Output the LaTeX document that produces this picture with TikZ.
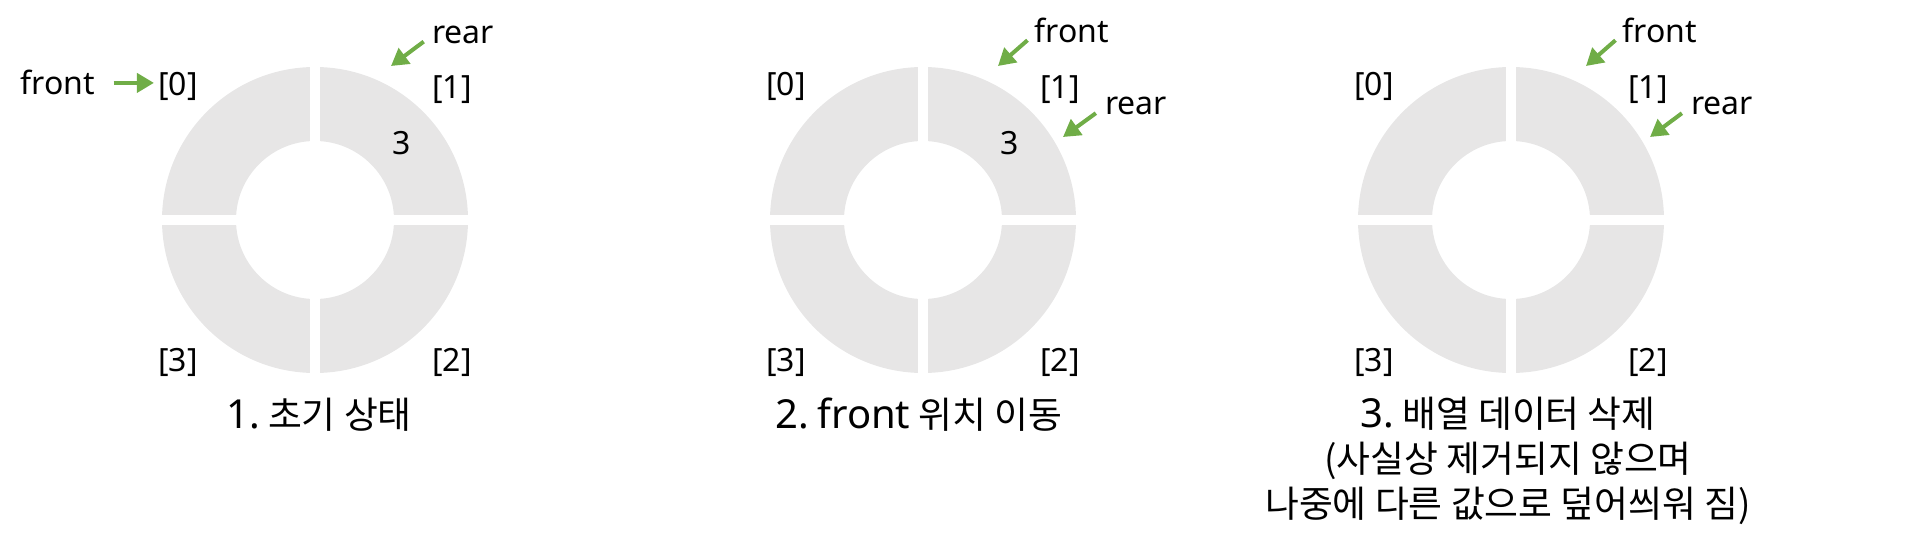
\documentclass[tikz,border=0pt]{standalone}
\usepackage{fontspec}
\setmainfont{Noto Sans}
\newfontfamily\kr[Scale=0.92]{Noto Sans CJK KR}
\usetikzlibrary{arrows.meta}
\definecolor{ringgray}{HTML}{E7E6E6}
\definecolor{ptrgreen}{HTML}{70AD47}

\begin{document}
\begin{tikzpicture}[x=0.5pt,y=0.5pt,
  lbl/.style={anchor=base,inner sep=2pt,font=\fontsize{16pt}{19pt}\selectfont},
  captxt/.style={anchor=base,align=center,font=\fontsize{20pt}{22.5pt}\selectfont},
  ptr/.style={draw=ptrgreen,line width=2pt,-{Triangle[length=8.5pt,width=9.5pt]}}]
  \useasboundingbox (0,0) rectangle (1915,547);

  \fill[ringgray,even odd rule] (315,327) circle (153) (315,327) circle (79);
  \fill[white] (310,170) rectangle (320,484);
  \fill[white] (158,322) rectangle (472,332);

  \fill[ringgray,even odd rule] (923,327) circle (153) (923,327) circle (79);
  \fill[white] (918,170) rectangle (928,484);
  \fill[white] (766,322) rectangle (1080,332);

  \fill[ringgray,even odd rule] (1511,327) circle (153) (1511,327) circle (79);
  \fill[white] (1506,170) rectangle (1516,484);
  \fill[white] (1354,322) rectangle (1668,332);

  \node[lbl] (idxA0) at (178,451) {[0]};
  \node[lbl] (idxA1) at (452,448) {[1]};
  \node[lbl] (idxA2) at (452,176) {[2]};
  \node[lbl] (idxA3) at (178,176) {[3]};
  \node[lbl] (valA) at (402,392) {3};
  \node[lbl] (frontA) at (58,452) {front};
  \node[lbl] (rearA) at (463,503) {rear};
  \coordinate (rearAtip) at (391,481);
  \draw[ptr,shorten <=7pt] (frontA.east) -- (frontA.east -| idxA0.west);
  \draw[ptr,shorten <=2.5pt] (rearA.mid west) -- (rearAtip);
  \node[captxt] (capA) at (319,119) {1.{\kr\ 초기 상태}};

  \node[lbl] (idxB0) at (786,451) {[0]};
  \node[lbl] (idxB1) at (1060,448) {[1]};
  \node[lbl] (idxB2) at (1060,176) {[2]};
  \node[lbl] (idxB3) at (786,176) {[3]};
  \node[lbl] (valB) at (1010,392) {3};
  \node[lbl] (frontB) at (1072,504) {front};
  \node[lbl] (rearB) at (1136,432) {rear};
  \coordinate (frontBtip) at (998,481);
  \coordinate (rearBtip) at (1063,410);
  \draw[ptr,shorten <=2pt] (frontB.mid west) -- (frontBtip);
  \draw[ptr,shorten <=3pt] (rearB.mid west) -- (rearBtip);
  \node[captxt] (capB) at (919,119) {2.{\kr\ }front{\kr\ 위치 이동}};

  \node[lbl] (idxC0) at (1374,451) {[0]};
  \node[lbl] (idxC1) at (1648,448) {[1]};
  \node[lbl] (idxC2) at (1648,176) {[2]};
  \node[lbl] (idxC3) at (1374,176) {[3]};
  \node[lbl] (frontC) at (1660,504) {front};
  \node[lbl] (rearC) at (1722,432) {rear};
  \coordinate (frontCtip) at (1586,481);
  \coordinate (rearCtip) at (1650,410);
  \draw[ptr,shorten <=2pt] (frontC.mid west) -- (frontCtip);
  \draw[ptr,shorten <=3pt] (rearC.mid west) -- (rearCtip);
  \node[captxt] (capC) at (1508,30) {3.{\kr\ 배열 데이터 삭제}\\{\kr (사실상 제거되지 않으며}\\{\kr 나중에 다른 값으로 덮어씌워 짐)}};
\end{tikzpicture}
\end{document}
